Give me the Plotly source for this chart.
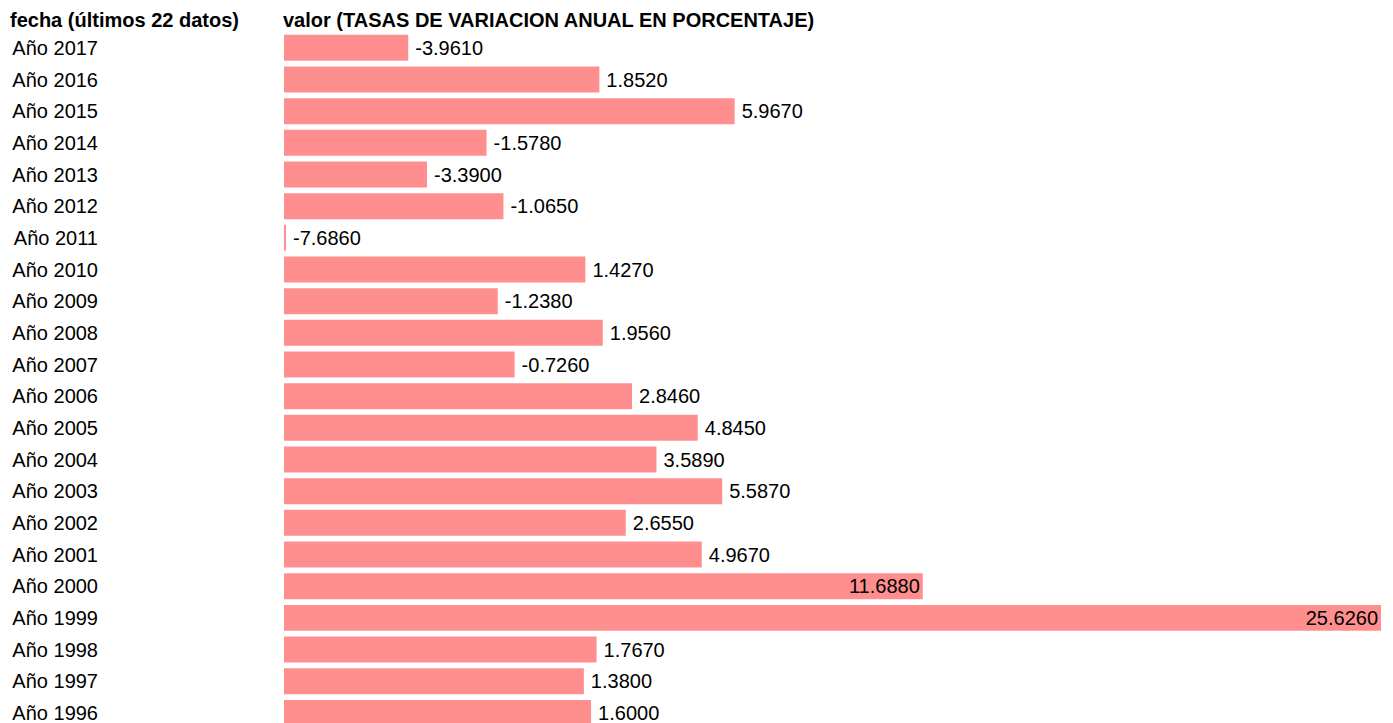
import plotly.graph_objects as go

years = [2017, 2016, 2015, 2014, 2013, 2012, 2011, 2010, 2009, 2008, 2007,
         2006, 2005, 2004, 2003, 2002, 2001, 2000, 1999, 1998, 1997, 1996]
labels = ["Año %d" % y for y in years]
values = [-3.961, 1.852, 5.967, -1.578, -3.390, -1.065, -7.686, 1.427, -1.238, 1.956, -0.726,
          2.846, 4.845, 3.589, 5.587, 2.655, 4.967, 11.688, 25.626, 1.767, 1.380, 1.600]
inside_labels = [11.688, 25.626]

X0 = -7.74
FONT = "Liberation Sans, Arial, sans-serif"
# page body has an 8px margin; figure sized to fill the rest of the 1393x723 window
W, H = 1385, 715
ML, MR, MT = 276, 12, 24

texts = [("%.4f" % v) if v in inside_labels else ("\u2009%.4f" % v) for v in values]
positions = ["inside" if v in inside_labels else "outside" for v in values]

fig = go.Figure(go.Bar(
    y=labels,
    x=[v - X0 for v in values],
    base=X0,
    orientation="h",
    marker=dict(color="#FF8F8F", line=dict(width=0)),
    text=texts,
    textposition=positions,
    insidetextanchor="end",
    textfont=dict(family=FONT, size=20, color="#000000"),
    constraintext="none",
    cliponaxis=False,
    hoverinfo="skip",
))

pw = W - ML - MR
fig.update_layout(
    width=W, height=H,
    margin=dict(l=ML, r=MR, t=MT, b=0, pad=0),
    paper_bgcolor="white", plot_bgcolor="white",
    bargap=0.18,
    showlegend=False,
    font=dict(family=FONT, size=20, color="#000000"),
    xaxis=dict(range=[X0, max(values)], visible=False, fixedrange=True),
    yaxis=dict(type="category", categoryorder="array", categoryarray=labels,
               range=[21.32, -0.5], showgrid=False, zeroline=False, showline=False,
               ticks="", ticklabelstandoff=185,
               tickfont=dict(family=FONT, size=20, color="#000000")),
    annotations=[
        dict(text="<b>fecha (últimos 22 datos)</b>", xref="paper", yref="paper",
             x=(0 - ML) / pw, y=1, xanchor="left", yanchor="middle", yshift=12,
             showarrow=False, font=dict(family=FONT, size=20, color="#000000")),
        dict(text="<b>valor (TASAS DE VARIACION ANUAL EN PORCENTAJE)</b>", xref="paper", yref="paper",
             x=(273 - ML) / pw, y=1, xanchor="left", yanchor="middle", yshift=12,
             showarrow=False, font=dict(family=FONT, size=20, color="#000000")),
    ],
)

fig.write_html("out.html")
